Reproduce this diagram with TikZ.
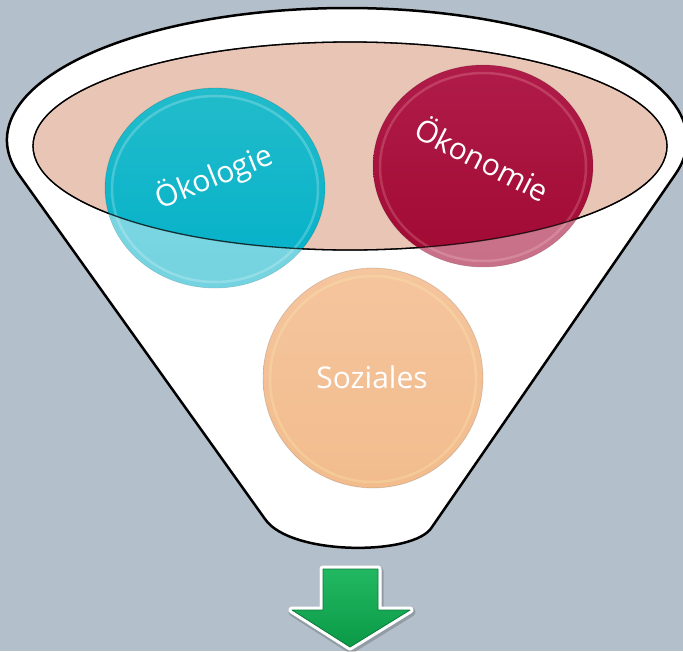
\documentclass[tikz,border=0pt]{standalone}
\usepackage{fontspec}
\setmainfont{Open Sans}
\definecolor{bg}{HTML}{B3BFCA}
\definecolor{rimfill}{HTML}{E9C5B5}
\definecolor{tealA}{HTML}{22BCCB}
\definecolor{tealB}{HTML}{02B0C8}
\definecolor{redA}{HTML}{B01C4A}
\definecolor{redB}{HTML}{A00932}
\definecolor{peachA}{HTML}{F5C59E}
\definecolor{peachB}{HTML}{F2BC8D}
\definecolor{greenA}{HTML}{22B862}
\definecolor{greenB}{HTML}{0B9A47}
\tikzset{
  funnelline/.style={line width=2.5pt, draw=black, fill=white},
  rimline/.style={line width=1.3pt, draw=black},
  balltext/.style={text=white, font=\fontsize{30}{36}\selectfont, inner sep=0pt},
  ballrim/.style={draw=white, opacity=0.22, line width=2.5pt},
  balledge/.style={draw=black, opacity=0.12, line width=0.8pt}
}
\begin{document}
\begin{tikzpicture}[x=1pt,y=-1pt]
\fill[bg] (0,0) rectangle (683,651);
\useasboundingbox (0,0) rectangle (683,651);
% funnel body
\path[funnelline] (265,519) -- (18.6,174.2)
  arc[start angle=165,end angle=375,x radius=340,y radius=132]
  -- (432,527) .. controls (415,556) and (290,556) .. (265,519) -- cycle;
% rim ellipse
\path[rimline, fill=rimfill] (350,146) ellipse[x radius=317, y radius=104];
% Oekologie ball
\shade[top color=tealA, bottom color=tealB] (215,188) ellipse[x radius=110, y radius=100];
\path[ballrim] (215,189) ellipse[x radius=103, y radius=93];
\path[balledge] (215,188) ellipse[x radius=110, y radius=100];
% Oekonomie ball
\shade[top color=redA, bottom color=redB] (483,166) ellipse[x radius=110, y radius=101];
\path[ballrim, draw=pink] (483,167) ellipse[x radius=103, y radius=94];
\path[balledge] (483,166) ellipse[x radius=110, y radius=101];
% pale parts outside the rim
\begin{scope}
  \clip (215,188) ellipse[x radius=110, y radius=100];
  \fill[white, opacity=0.45, even odd rule] (0,0) rectangle (683,651)
    (350,146) ellipse[x radius=317, y radius=104];
\end{scope}
\begin{scope}
  \clip (483,166) ellipse[x radius=110, y radius=101];
  \fill[white, opacity=0.42, even odd rule] (0,0) rectangle (683,651)
    (350,146) ellipse[x radius=317, y radius=104];
\end{scope}
\path[rimline, draw opacity=0.75] (350,146) ellipse[x radius=317, y radius=104];
% Soziales ball
\shade[top color=peachA, bottom color=peachB] (373,378) circle[radius=110];
\path[ballrim, draw=yellow!30!white] (373,379) circle[radius=103];
\path[balledge] (373,378) circle[radius=110];
% texts
\node[balltext, rotate=22] (oekol) at (214,177) {Ökologie};
\node[balltext, rotate=-27] (oekon) at (483,158) {Ökonomie};
\node[balltext] (sozial) at (372,377) {Soziales};
% arrow
\path[draw=black, opacity=0.18, line width=9pt, line join=round]
  (324,571) -- (379,571) -- (379,612) -- (411,612) -- (351,649) -- (293,612) -- (324,612) -- cycle;
\path[draw=white, line width=7pt, line join=round]
  (323,569) -- (378,569) -- (378,610) -- (410,610) -- (350,647) -- (292,610) -- (323,610) -- cycle;
\shade[top color=greenA, bottom color=greenB]
  (323,569) -- (378,569) -- (378,610) -- (410,610) -- (350,647) -- (292,610) -- (323,610) -- cycle;
\draw[greenB!80!black, line width=0.8pt, line join=round]
  (323,569) -- (378,569) -- (378,610) -- (410,610) -- (350,647) -- (292,610) -- (323,610) -- cycle;
\end{tikzpicture}
\end{document}
